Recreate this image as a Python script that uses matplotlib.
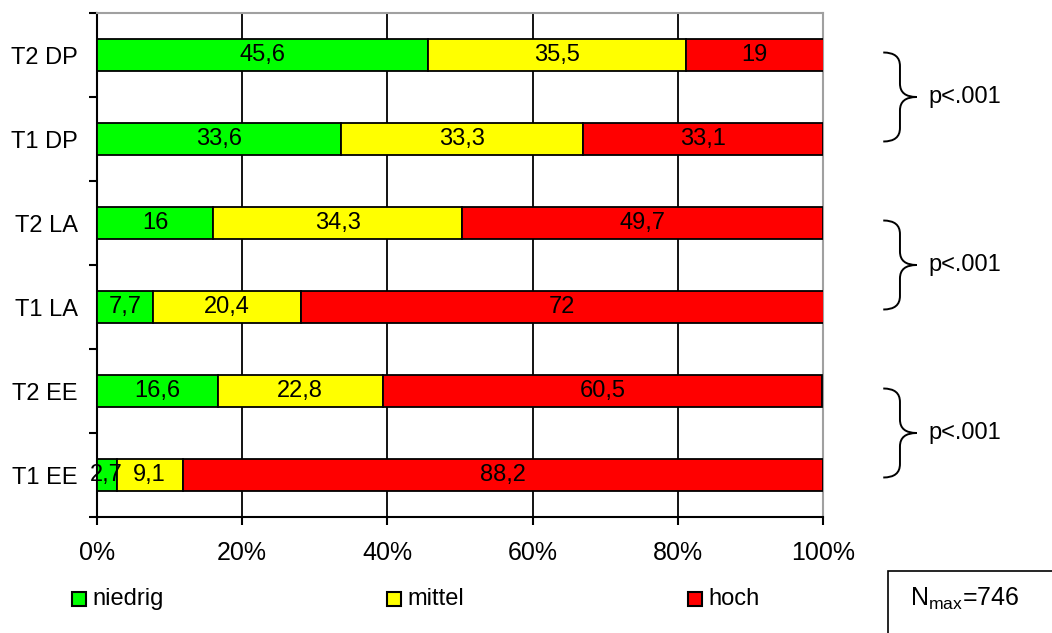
import matplotlib.pyplot as plt
from matplotlib.path import Path
from matplotlib.patches import PathPatch, Rectangle

plt.rcParams['font.family'] = ['Liberation Sans', 'DejaVu Sans']
plt.rcParams['mathtext.fontset'] = 'custom'
plt.rcParams['mathtext.rm'] = 'Liberation Sans'

# Rows from bottom to top
groups = ["T1 EE", "T2 EE", "T1 LA", "T2 LA", "T1 DP", "T2 DP"]
niedrig = [2.7, 16.6, 7.7, 16.0, 33.6, 45.6]
mittel = [9.1, 22.8, 20.4, 34.3, 33.3, 35.5]
hoch = [88.2, 60.5, 72.0, 49.7, 33.1, 19.0]
series_names = ["niedrig", "mittel", "hoch"]
series_colors = ["#00ff00", "#ffff00", "#ff0000"]

# pairs of rows joined by a brace, with the test result
pairs = [(0, 1), (2, 3), (4, 5)]
p_labels = ["p<.001", "p<.001", "p<.001"]
n_max = 746

fig = plt.figure(figsize=(10.52, 6.33), dpi=100)
ax = fig.add_axes([97 / 1052, 1 - 517 / 633, 726 / 1052, 504 / 633])

y = list(range(len(groups)))
left = [0.0] * len(groups)
for vals, color in zip([niedrig, mittel, hoch], series_colors):
    ax.barh(y, vals, left=left, height=0.39, color=color,
            edgecolor="black", linewidth=1.3, zorder=3)
    for yi, l, v in zip(y, left, vals):
        txt = f"{v:g}".replace(".", ",")
        ax.text(l + v / 2, yi, txt, ha="center", va="center",
                fontsize=17, zorder=4)
    left = [a + b for a, b in zip(left, vals)]

ax.set_xlim(0, 100)
ax.set_ylim(-0.5, len(groups) - 0.5)
ax.set_xticks(range(0, 101, 20))
ax.set_xticklabels([f"{t}%" for t in range(0, 101, 20)], fontsize=18)
ax.set_yticks(y)
ax.set_yticklabels(groups, fontsize=17)
ax.set_yticks([i - 0.5 for i in range(len(groups) + 1)], minor=True)
ax.tick_params(axis="y", which="major", length=0, pad=14)
ax.tick_params(axis="y", which="minor", length=6, width=1.5, direction="out")
ax.tick_params(axis="x", length=6, width=1.5, direction="out", pad=11)

for xv in range(20, 100, 20):
    ax.axvline(xv, color="black", linewidth=1.3, zorder=1)

for side in ["top", "right"]:
    ax.spines[side].set_color("#a0a0a0")
    ax.spines[side].set_linewidth(1.5)
for side in ["bottom", "left"]:
    ax.spines[side].set_linewidth(1.5)


def brace(ax, y_lo, y_hi, x0=108.3, x1=110.6, x2=112.9, r=0.16):
    ym = (y_lo + y_hi) / 2
    verts = [(x0, y_hi), (x1, y_hi), (x1, y_hi - r),
             (x1, ym + r),
             (x1, ym), (x2, ym),
             (x1, ym), (x1, ym - r),
             (x1, y_lo + r),
             (x1, y_lo), (x0, y_lo)]
    codes = [Path.MOVETO, Path.CURVE3, Path.CURVE3,
             Path.LINETO,
             Path.CURVE3, Path.CURVE3,
             Path.CURVE3, Path.CURVE3,
             Path.LINETO,
             Path.CURVE3, Path.CURVE3]
    ax.add_patch(PathPatch(Path(verts, codes), facecolor="none",
                           edgecolor="black", linewidth=1.4, clip_on=False))
    return ym


for (a, b), lab in zip(pairs, p_labels):
    ym = brace(ax, a - 0.03, b + 0.03)
    ax.text(114.5, ym, lab, ha="left", va="center", fontsize=17, clip_on=False)

# legend along the bottom
legend_x = [72, 387, 688]
for name, color, lx in zip(series_names, series_colors, legend_x):
    fig.patches.append(Rectangle((lx / 1052, 1 - 606 / 633), 14 / 1052, 14 / 633,
                                 transform=fig.transFigure, facecolor=color,
                                 edgecolor="black", linewidth=1.5))
    fig.text((lx + 20) / 1052, 1 - 599 / 633, name, ha="left", va="center",
             fontsize=17)

# sample size box
fig.patches.append(Rectangle((888 / 1052, -0.05), 0.3, 1 - 571 / 633 + 0.05,
                             transform=fig.transFigure, facecolor="white",
                             edgecolor="black", linewidth=1.2))
fig.text(910 / 1052, 1 - 599 / 633, r"N$_{\mathrm{max}}$=" + str(n_max),
         ha="left", va="center", fontsize=18)

fig.savefig("out.png", dpi=100)
